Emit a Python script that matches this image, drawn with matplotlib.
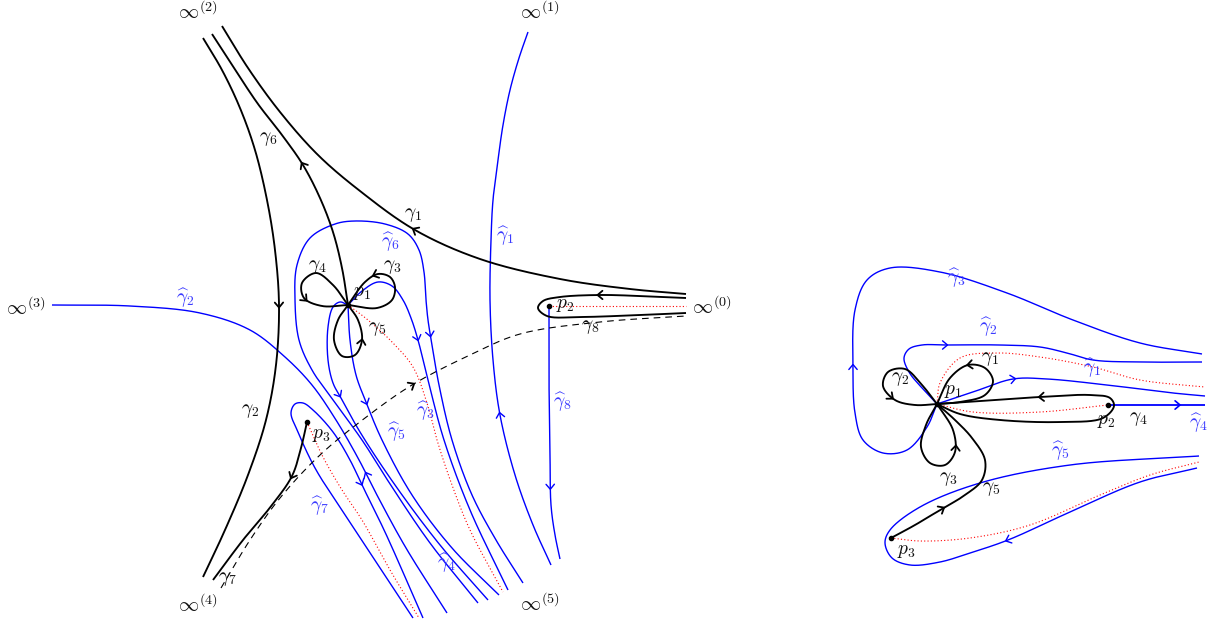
import numpy as np
import matplotlib
matplotlib.use('Agg')
import matplotlib.pyplot as plt

plt.rcParams['mathtext.fontset'] = 'cm'

# ---------------- data: control points of each path (pixel frame) -------------
# left panel, black
L_gamma2 = [(203,38),(222,70),(240,108),(255,150),(267,200),(275,250),(279,305),(276,365),(266,420),(248,475),(225,530),(203,577)]
L_gamma6 = [(212,34),(234,68),(258,104),(282,135),(303,165),(320,198),(333,232),(342,268),(348,305)]
L_gamma1 = [(222,26),(248,68),(280,112),(318,155),(360,191),(415,230),(480,259),(560,279),(630,289),(686,294)]
L_gamma8 = [(686,298),(640,296),(600,295),(560,297),(543,301),(538,308),(547,316),(580,317),(640,315),(686,313)]
L_gamma7 = [(307,422),(301,448),(292,476),(272,505),(243,540),(213,580)]
L_dashed = [(221,588),(250,540),(280,498),(320,455),(365,418),(412,385),(470,355),(520,334),(600,322),(686,316)]
L_pet4 = [(348,305),(333,285),(316,273),(302,283),(304,298),(322,306),(348,305)]
L_pet3 = [(348,305),(377,308),(392,300),(395,287),(390,277),(378,274),(365,282),(348,305)]
L_pet5 = [(348,305),(338,320),(334,340),(342,356),(355,355),(362,340),(358,320),(348,305)]
# left panel, blue
L_h1 = [(528,32),(519,58),(510,90),(503,125),(498,160),(493,200),(491,240),(490,300),(493,360),(500,415),(515,475),(533,525),(551,565)]
L_h8 = [(549,306),(549,380),(550,450),(551,505),(555,535),(560,559)]
L_h2 = [(52,305),(130,306),(200,313),(250,330),(285,357),(312,385),(336,420),(358,458),(378,497),(406,548),(447,613)]
L_h6 = [(478,603),(430,543),(392,487),(362,440),(333,400),(312,370),(299,340),(295,300),(297,265),(310,238),
        (335,224),(355,221),(385,224),(408,234),(419,250),(424,272),(426,300),(428,320),(432,345),(439,385),(452,440),
        (472,495),(496,540),(523,583)]
L_h4 = [(348,305),(340,302),(333,307),(328,327),(328,360),(333,383),(341,398),(360,432),(395,485),(440,545),(488,600)]
L_h5 = [(348,305),(350,340),(356,375),(366,402),(382,440),(412,495),(452,548),(499,595)]
L_h3 = [(348,305),(362,291),(378,282),(392,286),(403,300),(411,318),(418,340),(428,380),(444,440),(470,510),(508,590)]
L_h7 = [(413,618),(380,568),(345,515),(315,468),(298,432),(291,413),(295,404),(303,403),(313,410),(333,432),
        (350,460),(362,485),(385,532),(423,618)]
# left panel, red dotted
L_red1 = [(348,305),(368,320),(393,343),(413,367),(427,403),(437,440),(452,485),(470,530),(503,592)]
L_red3 = [(307,422),(323,457),(342,490),(362,520),(390,570),(419,618)]
L_red2 = [(549,306),(620,306),(686,306)]

# right panel, black
R_pet1 = [(937,404),(960,402),(985,395),(993,381),(985,368),(968,365),(950,378),(937,404)]
R_pet2 = [(937,404),(922,385),(905,369),(888,372),(883,386),(895,400),(915,405),(937,404)]
R_pet3 = [(937,404),(926,425),(921,447),(930,463),(945,465),(955,452),(953,430),(937,404)]
R_gamma5 = [(937,404),(955,420),(972,438),(985,460),(982,480),(965,495),(940,510),(915,525),(891,538)]
R_gamma4 = [(937,404),(980,401),(1040,397),(1090,395),(1110,398),(1114,406),(1103,418),(1060,422),(1000,420),(960,414),(937,404)]
# right panel, blue
R_h3 = [(937,404),(927,427),(907,450),(883,453),(863,440),(855,413),(853,367),(855,310),(867,280),(890,268),
        (940,272),(1007,293),(1073,320),(1140,343),(1202,354)]
R_h2 = [(937,404),(922,388),(909,372),(904,358),(909,349),(922,345),(945,345),(1000,345),(1040,347),(1067,353),
        (1093,360),(1140,362),(1202,362)]
R_h1 = [(937,404),(973,392),(1013,379),(1047,379),(1107,385),(1173,393),(1205,396)]
R_h4 = [(1108,405),(1160,405),(1205,405)]
R_h5 = [(1197,468),(1140,482),(1070,512),(1008,540),(970,553),(940,562),(910,565),(892,558),(885,543),(890,530),
        (920,507),(980,483),(1070,465),(1199,456)]
# right panel, red dotted
R_red1 = [(937,404),(940,383),(960,358),(997,353),(1040,357),(1093,367),(1140,380),(1205,387)]
R_red2 = [(937,404),(973,412),(1040,412),(1108,405)]
R_red3 = [(891,538),(920,541),(970,538),(1030,525),(1100,495),(1150,475),(1199,462)]

# marked points
pts_xy = [(348,305),(549,306),(307,422),(937,404),(1108,405),(891,538)]

# labels: (x, y, text, colour)
labels_left = [
    (198,12,r'$\infty^{(2)}$','k'),(540,12,r'$\infty^{(1)}$','k'),(26,308,r'$\infty^{(3)}$','k'),
    (712,307,r'$\infty^{(0)}$','k'),(198,605,r'$\infty^{(4)}$','k'),(540,604,r'$\infty^{(5)}$','k'),
    (268,138,r'$\gamma_6$','k'),(413,215,r'$\gamma_1$','k'),(505,236,r'$\widehat{\gamma}_1$','b'),
    (391,242,r'$\widehat{\gamma}_6$','b'),(317,266,r'$\gamma_4$','k'),(392,267,r'$\gamma_3$','k'),
    (362,293,r'$p_1$','k'),(185,298,r'$\widehat{\gamma}_2$','b'),(565,305,r'$p_2$','k'),
    (590,327,r'$\gamma_8$','k'),(377,328,r'$\gamma_5$','k'),(563,402,r'$\widehat{\gamma}_8$','b'),
    (250,411,r'$\gamma_2$','k'),(426,411,r'$\widehat{\gamma}_3$','b'),(321,434,r'$p_3$','k'),
    (397,432,r'$\widehat{\gamma}_5$','b'),(320,506,r'$\widehat{\gamma}_7$','b'),(447,563,r'$\widehat{\gamma}_4$','b'),
    (227,579,r'$\gamma_7$','k'),
]
labels_right = [
    (957,278,r'$\widehat{\gamma}_3$','b'),(988,327,r'$\widehat{\gamma}_2$','b'),(990,358,r'$\gamma_1$','k'),
    (1092,368,r'$\widehat{\gamma}_1$','b'),(900,378,r'$\gamma_2$','k'),(953,390,r'$p_1$','k'),
    (1106,420,r'$p_2$','k'),(1138,418,r'$\gamma_4$','k'),(1199,423,r'$\widehat{\gamma}_4$','b'),
    (1061,451,r'$\widehat{\gamma}_5$','b'),(948,478,r'$\gamma_3$','k'),(991,489,r'$\gamma_5$','k'),
    (906,551,r'$p_3$','k'),
]
# ------------------------------------------------------------------------------

def smooth(pts, n=40):
    P = np.asarray(pts, float)
    P = np.vstack([2*P[0]-P[1], P, 2*P[-1]-P[-2]])
    out = []
    for i in range(len(P)-3):
        p0, p1, p2, p3 = P[i:i+4]
        a = 0.5
        t0 = 0.0
        t1 = t0 + max(np.linalg.norm(p1-p0), 1e-6)**a
        t2 = t1 + max(np.linalg.norm(p2-p1), 1e-6)**a
        t3 = t2 + max(np.linalg.norm(p3-p2), 1e-6)**a
        t = np.linspace(t1, t2, n)[:, None]
        A1 = (t1-t)/(t1-t0)*p0 + (t-t0)/(t1-t0)*p1
        A2 = (t2-t)/(t2-t1)*p1 + (t-t1)/(t2-t1)*p2
        A3 = (t3-t)/(t3-t2)*p2 + (t-t2)/(t3-t2)*p3
        B1 = (t2-t)/(t2-t0)*A1 + (t-t0)/(t2-t0)*A2
        B2 = (t3-t)/(t3-t1)*A2 + (t-t1)/(t3-t1)*A3
        C = (t2-t)/(t2-t1)*B1 + (t-t1)/(t2-t1)*B2
        out.append(C if i == 0 else C[1:])
    return np.vstack(out)

fig = plt.figure(figsize=(12.19, 6.26), dpi=100)
ax = fig.add_axes([0, 0, 1, 1])
ax.set_xlim(0, 1219)
ax.set_ylim(626, 0)
ax.set_aspect('equal')
ax.axis('off')

BLUE = '#0000ff'
BLK_LW = 1.35
BLU_LW = 1.0

def draw(pts, color, lw, ls='-', z=2):
    c = smooth(pts)
    ax.plot(c[:, 0], c[:, 1], color=color, lw=lw, ls=ls, zorder=z,
            solid_capstyle='butt', solid_joinstyle='round')
    return c

def arrow(c, anchor, rev=False, color='k', lw=1.3, size=6.5, ang=40):
    d2 = np.sum((c - np.asarray(anchor, float))**2, axis=1)
    i = int(np.argmin(d2))
    i0, i1 = max(i-3, 0), min(i+3, len(c)-1)
    d = c[i1] - c[i0]
    d = d/np.linalg.norm(d)
    if rev:
        d = -d
    tip = c[i] + d*2.5
    pts = []
    for s in (1, -1):
        th = np.deg2rad(s*ang)
        r = np.array([d[0]*np.cos(th) - d[1]*np.sin(th), d[0]*np.sin(th) + d[1]*np.cos(th)])
        pts.append(tip - r*size)
    xs = [pts[0][0], tip[0], pts[1][0]]
    ys = [pts[0][1], tip[1], pts[1][1]]
    ax.plot(xs, ys, color=color, lw=lw, zorder=5, solid_capstyle='round', solid_joinstyle='miter')

RED_LS = (0, (1, 2))

# red dotted
for r in (L_red1, L_red3, L_red2, R_red1, R_red2, R_red3):
    draw(r, 'red', 0.8, RED_LS, z=1)

# blue
c = draw(L_h1, BLUE, BLU_LW); arrow(c, (500,415), True, BLUE, 1.0)
c = draw(L_h8, BLUE, BLU_LW); arrow(c, (550,487), False, BLUE, 1.0)
c = draw(L_h2, BLUE, BLU_LW); arrow(c, (366,475), True, BLUE, 1.0)
c = draw(L_h6, BLUE, BLU_LW); arrow(c, (432,334), False, BLUE, 1.0)
c = draw(L_h4, BLUE, BLU_LW); arrow(c, (340,394), False, BLUE, 1.0)
c = draw(L_h5, BLUE, BLU_LW); arrow(c, (366,402), False, BLUE, 1.0)
c = draw(L_h3, BLUE, BLU_LW); arrow(c, (418,338), False, BLUE, 1.0)
c = draw(L_h7, BLUE, BLU_LW); arrow(c, (360,483), False, BLUE, 1.0)

c = draw(R_h3, BLUE, BLU_LW); arrow(c, (853,367), False, BLUE, 1.0)
c = draw(R_h2, BLUE, BLU_LW); arrow(c, (945,345), False, BLUE, 1.0)
c = draw(R_h1, BLUE, BLU_LW); arrow(c, (1013,379), False, BLUE, 1.0)
c = draw(R_h4, BLUE, 1.3); arrow(c, (1178,405), False, BLUE, 1.2)
c = draw(R_h5, BLUE, BLU_LW); arrow(c, (1008,540), False, BLUE, 1.0)

# black
c = draw(L_gamma2, 'k', BLK_LW, z=3); arrow(c, (279,305), False)
c = draw(L_gamma6, 'k', BLK_LW, z=3); arrow(c, (303,165), True)
c = draw(L_gamma1, 'k', BLK_LW, z=3); arrow(c, (415,230), True)
c = draw(L_gamma8, 'k', BLK_LW, z=3); arrow(c, (600,295), False)
c = draw(L_gamma7, 'k', BLK_LW, z=3); arrow(c, (292,476), False)
c = draw(L_dashed, 'k', 0.8, (0, (6, 4.5)), z=3); arrow(c, (412,385), False, lw=1.3)
c = draw(L_pet4, 'k', BLK_LW, z=3); arrow(c, (305,299), False)
c = draw(L_pet3, 'k', BLK_LW, z=3); arrow(c, (375,274), False)
c = draw(L_pet5, 'k', BLK_LW, z=3); arrow(c, (362,342), False)

c = draw(R_pet1, 'k', BLK_LW, z=3); arrow(c, (970,365), False)
c = draw(R_pet2, 'k', BLK_LW, z=3); arrow(c, (892,396), False)
c = draw(R_pet3, 'k', BLK_LW, z=3); arrow(c, (954,448), False)
c = draw(R_gamma5, 'k', BLK_LW, z=3); arrow(c, (942,509), True)
c = draw(R_gamma4, 'k', BLK_LW, z=3); arrow(c, (1042,397), True)

for (x, y) in pts_xy:
    ax.plot([x], [y], 'o', color='k', ms=3, zorder=6)

for (x, y, s, col) in labels_left + labels_right:
    color = '#3c3cff' if col == 'b' else '#111111'
    fs = 14.5 if 'infty' in s else 14
    ax.text(x, y, s, color=color, fontsize=fs, ha='center', va='center', zorder=7)

fig.savefig('out.png', dpi=100)
